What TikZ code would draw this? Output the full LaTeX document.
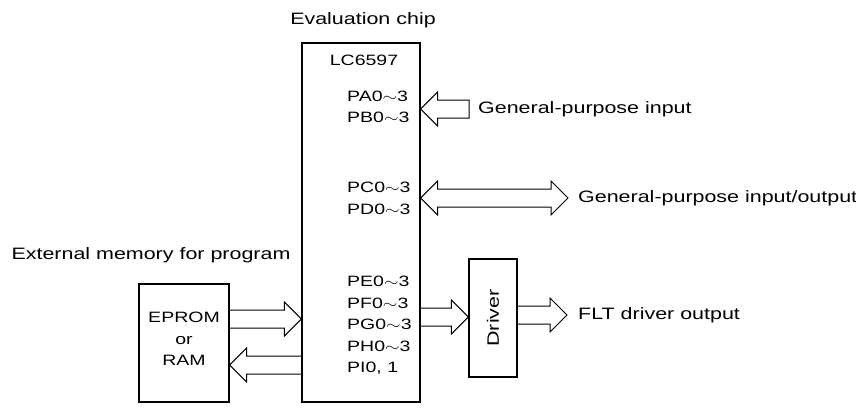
\documentclass[tikz,border=0pt]{standalone}
\usepackage{fontspec}
\usepackage{graphicx}
\setmainfont{Liberation Sans}[FakeStretch=1.3]
\usetikzlibrary{positioning,calc}
\tikzset{
  box/.style={draw,line width=1.2pt,inner sep=0pt},
  blk/.style={draw,line width=1pt,line join=miter},
  lbl/.style={font=\fontsize{16.5}{20}\selectfont,inner sep=0pt},
  pin/.style={font=\fontsize{15}{21.5}\selectfont,inner sep=0pt,align=left,anchor=west}
}
% hollow block arrow, tail #2 to tip #3 (same height)
\newcommand{\fatarrow}[3][]{%
  \draw[blk] let \p1=#2, \p2=#3, \n1={sign(\x2-\x1)} in
    (\x1,\y1+9pt) -- (\x2-\n1*17pt,\y1+9pt) -- (\x2-\n1*17pt,\y1+17pt) -- (\x2,\y1)
    -- (\x2-\n1*17pt,\y1-17pt) -- (\x2-\n1*17pt,\y1-9pt) -- (\x1,\y1-9pt) #1;}
% hollow block arrow with two heads
\newcommand{\fatboth}[2]{%
  \draw[blk] let \p1=#1, \p2=#2 in
    (\x1,\y1) -- (\x1+17pt,\y1+17pt) -- (\x1+17pt,\y1+9pt) -- (\x2-17pt,\y1+9pt)
    -- (\x2-17pt,\y1+17pt) -- (\x2,\y1) -- (\x2-17pt,\y1-17pt) -- (\x2-17pt,\y1-9pt)
    -- (\x1+17pt,\y1-9pt) -- (\x1+17pt,\y1-17pt) -- cycle;}
\newcommand{\sm}{\scalebox{1.3}[1]{$\sim$}}

\begin{document}
\begin{tikzpicture}[x=1pt,y=-1pt]
  \useasboundingbox (0,0) rectangle (856,407);

  % Blocks
  \node[box,minimum width=118pt,minimum height=359pt] (chip) at (361,222.5) {};
  \node[box,minimum width=90pt,minimum height=118pt] (mem) at (184,343) {};
  \node[box,minimum width=48pt,minimum height=118pt] (driver) at (493,318) {};

  % Texts
  \node[lbl] (chiplbl) at (363,20) {Evaluation chip};
  \node[pin,anchor=center] (part) at (364,60) {LC6597};
  \node[pin] (pab) at (347,107) {PA0\sm3\\PB0\sm3};
  \node[pin] (pcd) at (347,198.5) {PC0\sm3\\PD0\sm3};
  \node[pin] (pei) at (347,325.5) {PE0\sm3\\PF0\sm3\\PG0\sm3\\PH0\sm3\\PI0, 1};
  \node[pin,anchor=center,align=center] (memtxt) at (184,339) {EPROM\\or\\RAM};
  \node[lbl,rotate=90] (drvtxt) at (driver.center) {Driver};
  \node[lbl] (extlbl) at (151,255) {External memory for program};

  % Connectors
  \coordinate (gpin) at (469,109);
  \coordinate (io) at (568,198);
  \coordinate (drvin) at (0,317);
  \coordinate (fltout) at (567,315);
  \coordinate (memin) at (0,319);
  \coordinate (memout) at (0,365);

  \fatarrow[-- cycle]{(gpin)}{(chip.east |- gpin)}
  \fatboth{(chip.east |- io)}{(io)}
  \fatarrow{(chip.east |- drvin)}{(driver.west |- drvin)}
  \fatarrow{(driver.east |- fltout)}{(fltout)}
  \fatarrow{(mem.east |- memin)}{(chip.west |- memin)}
  \fatarrow{(chip.west |- memout)}{(mem.east |- memout)}

  \node[lbl,anchor=west] (gpinlbl) at ([xshift=9pt]gpin) {General-purpose input};
  \node[lbl,anchor=west] (iolbl) at ([xshift=10pt]io) {General-purpose input/output};
  \node[lbl,anchor=west] (fltlbl) at ([xshift=11pt]fltout) {FLT driver output};
\end{tikzpicture}
\end{document}
